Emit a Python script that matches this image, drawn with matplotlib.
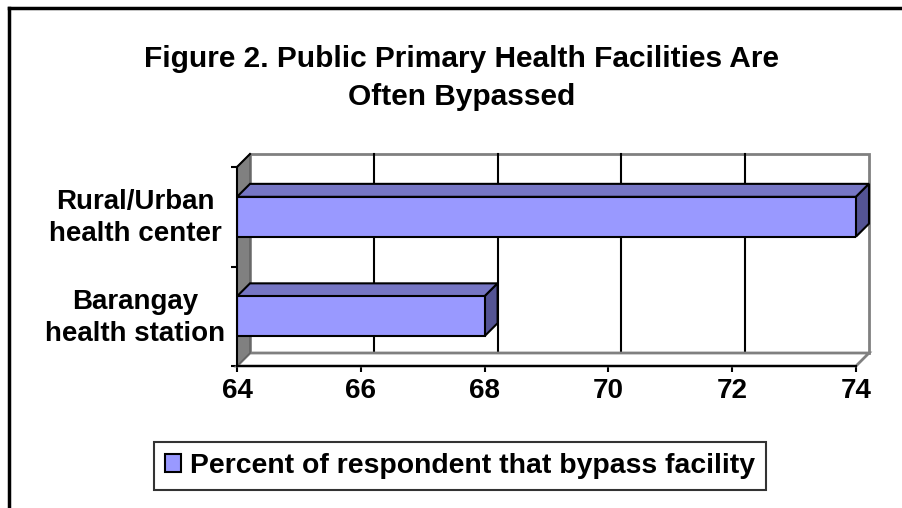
import matplotlib
matplotlib.use("Agg")
import matplotlib.pyplot as plt
from matplotlib.patches import Polygon
from matplotlib.lines import Line2D
import numpy as np

# ---- data ----
categories = ["Barangay\nhealth station", "Rural/Urban\nhealth center"]
values = [68, 74]
series_name = "Percent of respondent that bypass facility"
xticks = [64, 66, 68, 70, 72, 74]
title = "Figure 2. Public Primary Health Facilities Are\nOften Bypassed"

plt.rcParams['font.family'] = ['Liberation Sans', 'DejaVu Sans']
plt.rcParams['font.weight'] = 'bold'

FS = 20
W, H = 902, 508
fig = plt.figure(figsize=(W / 100, H / 100), dpi=100)
ax = fig.add_axes([237 / W, 1 - 366 / H, (856 - 237) / W, (366 - 167) / H])
xmin, xmax = xticks[0], xticks[-1]
ax.set_xlim(xmin, xmax)
ax.set_ylim(-0.5, len(categories) - 0.5)
ax.patch.set_visible(False)
for s in ax.spines.values():
    s.set_visible(False)

DX, DY = 13, 13  # depth offset in pixels
inv = fig.transFigure.inverted()


def P(x, y, back=False):
    d = np.array(ax.transData.transform((x, y)), dtype=float)
    if back:
        d += (DX, DY)
    return inv.transform(d)


def poly(pts, **kw):
    p = Polygon(pts, closed=True, transform=fig.transFigure, clip_on=False, **kw)
    ax.add_patch(p)
    return p


def line(a, b, **kw):
    l = Line2D([a[0], b[0]], [a[1], b[1]], transform=fig.transFigure,
               clip_on=False, **kw)
    ax.add_line(l)


y0, y1 = -0.5, len(categories) - 0.5
# back wall
poly([P(xmin, y0, True), P(xmax, y0, True), P(xmax, y1, True), P(xmin, y1, True)],
     facecolor='white', edgecolor='#808080', lw=2, zorder=1)
# gridlines on back wall
for t in xticks[1:-1]:
    line(P(t, y0, True), P(t, y1, True), color='black', lw=1.5, zorder=2)
# floor
poly([P(xmin, y0), P(xmax, y0), P(xmax, y0, True), P(xmin, y0, True)],
     facecolor='white', edgecolor='#808080', lw=2, zorder=2)
# left wall
poly([P(xmin, y0), P(xmin, y0, True), P(xmin, y1, True), P(xmin, y1)],
     facecolor='#808080', edgecolor='#606060', lw=1, zorder=3)
line(P(xmin, y1), P(xmin, y1, True), color='black', lw=1.5, zorder=4)

# bars
ypos = np.arange(len(categories))
bh = 0.4
bars = ax.barh(ypos, np.array(values) - xmin, left=xmin, height=bh,
               color='#9999FF', edgecolor='black', lw=1.5, zorder=6,
               label=series_name)
for yy, v in zip(ypos, values):
    poly([P(xmin, yy + bh / 2), P(v, yy + bh / 2), P(v, yy + bh / 2, True),
          P(xmin, yy + bh / 2, True)],
         facecolor='#7676C4', edgecolor='black', lw=1.5, zorder=5)
    poly([P(v, yy - bh / 2), P(v, yy + bh / 2), P(v, yy + bh / 2, True),
          P(v, yy - bh / 2, True)],
         facecolor='#545494', edgecolor='black', lw=1.5, zorder=5)

# axes lines (front)
line(P(xmin, y0), P(xmax, y0), color='black', lw=1.5, zorder=7)
line(P(xmin, y0), P(xmin, y1), color='black', lw=1.5, zorder=7)

# ticks
ax.set_xticks(xticks)
ax.set_xticklabels([str(t) for t in xticks], fontsize=FS, fontweight='bold')
ax.tick_params(axis='x', length=4, width=1.5, pad=5, direction='out')
ax.set_yticks(ypos)
ax.set_yticklabels([])
ax.tick_params(axis='y', which='major', length=0)
ax.set_yticks(np.arange(len(categories) + 1) - 0.5, minor=True)
ax.tick_params(axis='y', which='minor', length=4, width=1.5, direction='out')

for yy, c in zip(ypos, categories):
    fy = P(xmin, yy)[1] - 1.5 / H
    fig.text(135 / W, fy, c, ha='center', va='center', multialignment='center',
             fontsize=FS, fontweight='bold', linespacing=1.3)

fig.text(462 / W, 1 - 78 / H, title, ha='center', va='center',
         multialignment='center', fontsize=21.5, fontweight='bold',
         linespacing=1.42)

leg = fig.legend(handles=[bars], labels=[series_name], loc='center',
                 bbox_to_anchor=(460 / W, 1 - 466 / H), fontsize=20.4,
                 frameon=True, fancybox=False, handlelength=0.58,
                 handleheight=0.58, handletextpad=0.3, borderpad=0.4,
                 borderaxespad=0)
leg.get_frame().set_edgecolor('black')
leg.get_frame().set_linewidth(1.5)
for t in leg.get_texts():
    t.set_fontweight('bold')

# outer chart border (left and top)
fig.add_artist(Line2D([8.5 / W, 8.5 / W], [0, 1 - 7.5 / H], color='black', lw=2.5,
                      transform=fig.transFigure))
fig.add_artist(Line2D([8.5 / W, 1], [1 - 7.5 / H, 1 - 7.5 / H], color='black', lw=2.5,
                      transform=fig.transFigure))

fig.savefig('out.png', dpi=100)
